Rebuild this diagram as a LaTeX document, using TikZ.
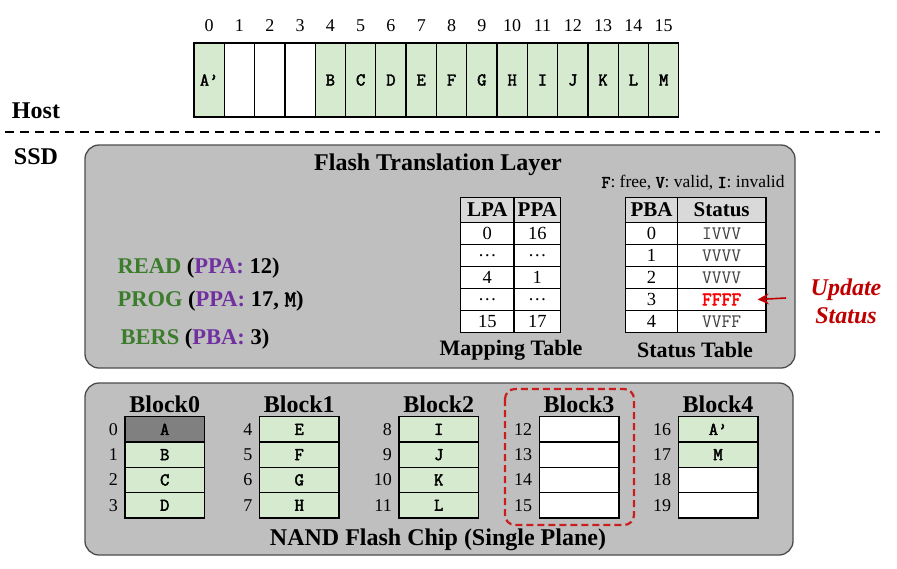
\documentclass[tikz,border=0pt]{standalone}
\usepackage{fontspec}
\setmainfont{Liberation Serif}
\newfontfamily\boldmono{Latin Modern Mono}[FakeBold=2.5]
\usetikzlibrary{arrows.meta}
\definecolor{cellgreen}{RGB}{213,234,207}
\definecolor{pagegray}{RGB}{128,128,128}
\definecolor{boxgray}{RGB}{191,191,191}
\definecolor{headgray}{RGB}{217,217,217}
\definecolor{cmdgreen}{RGB}{60,125,45}
\definecolor{argpurple}{RGB}{112,48,160}
\definecolor{darkred}{RGB}{192,0,0}
\definecolor{dashred}{RGB}{200,30,30}

\begin{document}
\begin{tikzpicture}[x=1pt, y=-1pt, every node/.style={font=\fontsize{18}{20}\selectfont},
  lpage/.style={draw,line width=1.3pt,minimum width=30.3pt,minimum height=74pt,inner sep=0pt,font=\fontsize{18}{20}\selectfont\boldmono},
  page/.style={draw,line width=1.4pt,minimum width=79.5pt,minimum height=25.3pt,inner sep=0pt,font=\fontsize{18}{20}\selectfont\boldmono},
  tcell/.style={draw,line width=1.4pt,minimum height=22pt,inner sep=0pt,fill=white,font=\fontsize{18.5}{20}\selectfont},
  thead/.style={tcell,minimum height=25pt,fill=headgray,font=\fontsize{21}{23}\selectfont\bfseries},
  bigbold/.style={font=\fontsize{24}{28}\selectfont\bfseries},
  cmd/.style={anchor=west,font=\fontsize{22.5}{26}\selectfont\bfseries},
  panel/.style={draw=black!70,line width=1.3pt,fill=boxgray,rounded corners=14pt}]
  \fill[white] (0,0) rectangle (897,568);
  \useasboundingbox (0,0) rectangle (897,568);

  % host side
  \foreach \t/\c [count=\i from 0] in {A’/cellgreen,{}/white,{}/white,{}/white,B/cellgreen,C/cellgreen,D/cellgreen,E/cellgreen,F/cellgreen,G/cellgreen,H/cellgreen,I/cellgreen,J/cellgreen,K/cellgreen,L/cellgreen,M/cellgreen} {
    \node[lpage,fill=\c] (h\i) at ({209.15+30.3*\i},80) {\t};
    \node (hn\i) at ({209.15+30.3*\i},26) {\i};
  }
  \node[bigbold] (host) at (36,111) {Host};
  \draw[line width=2pt,dash pattern=on 9pt off 6pt] (5,132) -- (880,132);
  \node[bigbold] (ssd) at (36,157) {SSD};

  % flash translation layer
  \draw[panel] (85,145) rectangle (795,368);
  \node[bigbold] (ftl) at (438,165) {Flash Translation Layer};
  \node[font=\fontsize{17.5}{19}\selectfont] (legend) at (693,183) {{\boldmono F}: free, {\boldmono V}: valid, {\boldmono I}: invalid};

  \node[cmd] (rd) at (114,268) {\color{cmdgreen}READ \color{black}(\color{argpurple}PPA: \color{black}12)};
  \node[cmd] (prog) at (114,301) {\color{cmdgreen}PROG \color{black}(\color{argpurple}PPA: \color{black}17, {\boldmono M})};
  \node[cmd] (bers) at (117,339) {\color{cmdgreen}BERS \color{black}(\color{argpurple}PBA: \color{black}3)};

  \node[thead,minimum width=53.3pt] (lpa0) at (487.35,209.8) {LPA};
  \node[thead,minimum width=46.7pt] (ppa0) at (537.35,209.8) {PPA};
  \foreach \a/\b [count=\r] in {0/16,\ldots/\ldots,4/1,\ldots/\ldots,15/17} {
    \node[tcell,minimum width=53.3pt] (lpa\r) at (487.35,{211.5+22*\r}) {\a};
    \node[tcell,minimum width=46.7pt] (ppa\r) at (537.35,{211.5+22*\r}) {\b};
  }
  \node[font=\fontsize{22}{24}\selectfont\bfseries] (maptab) at (511,350) {Mapping Table};

  \node[thead,minimum width=51.6pt] (pba0) at (651.5,209.8) {PBA};
  \node[thead,minimum width=88.7pt] (st0) at (721.65,209.8) {Status};
  \foreach \a/\b [count=\r] in {0/IVVV,1/VVVV,2/VVVV,3/{\color{red}\boldmono FFFF},4/VVFF} {
    \node[tcell,minimum width=51.6pt] (pba\r) at (651.5,{211.5+22*\r}) {\a};
    \node[tcell,minimum width=88.7pt,font=\fontsize{19}{21}\selectfont\ttfamily,text=black!75] (st\r) at (721.65,{211.5+22*\r}) {\b};
  }
  \node[font=\fontsize{22}{24}\selectfont\bfseries] (sttab) at (695,350) {Status Table};

  \node[font=\fontsize{24}{28}\selectfont\bfseries\itshape,text=darkred,align=center] (upd) at (846,301) {Update\\Status};
  \coordinate (updtail) at (786,298);
  \draw[-{Stealth[length=11pt,width=11pt]},darkred,line width=1.6pt] (updtail) -- ([xshift=-9pt]st4.east);

  % nand flash chip
  \draw[panel] (85,383) rectangle (793,555);
  \draw[dashred,line width=2.2pt,dash pattern=on 7pt off 4pt,rounded corners=10pt] (505,389) rectangle (634,525);
  \foreach \lx [count=\b from 0] in {125,259.5,399,539.3,678.3}
    \node[bigbold] (blk\b) at ({\lx+39.75},404) {Block\b};
  \foreach \p/\t/\c in {0/A/pagegray,1/B/cellgreen,2/C/cellgreen,3/D/cellgreen,4/E/cellgreen,5/F/cellgreen,6/G/cellgreen,7/H/cellgreen,8/I/cellgreen,9/J/cellgreen,10/K/cellgreen,11/L/cellgreen,12/{}/white,13/{}/white,14/{}/white,15/{}/white,16/A’/cellgreen,17/M/cellgreen,18/{}/white,19/{}/white} {
    \pgfmathtruncatemacro{\blk}{\p/4}
    \pgfmathtruncatemacro{\row}{mod(\p,4)}
    \pgfmathsetmacro{\lx}{{125,259.5,399,539.3,678.3}[\blk]}
    \node[page,fill=\c] (pg\p) at ({\lx+39.75},{429.35+25.3*\row}) {\t};
    \node[anchor=east,inner sep=0pt] (pn\p) at ({\lx-7},{429.35+25.3*\row}) {\p};
  }
  \node[bigbold] (nand) at (438,540) {NAND Flash Chip (Single Plane)};
\end{tikzpicture}
\end{document}
